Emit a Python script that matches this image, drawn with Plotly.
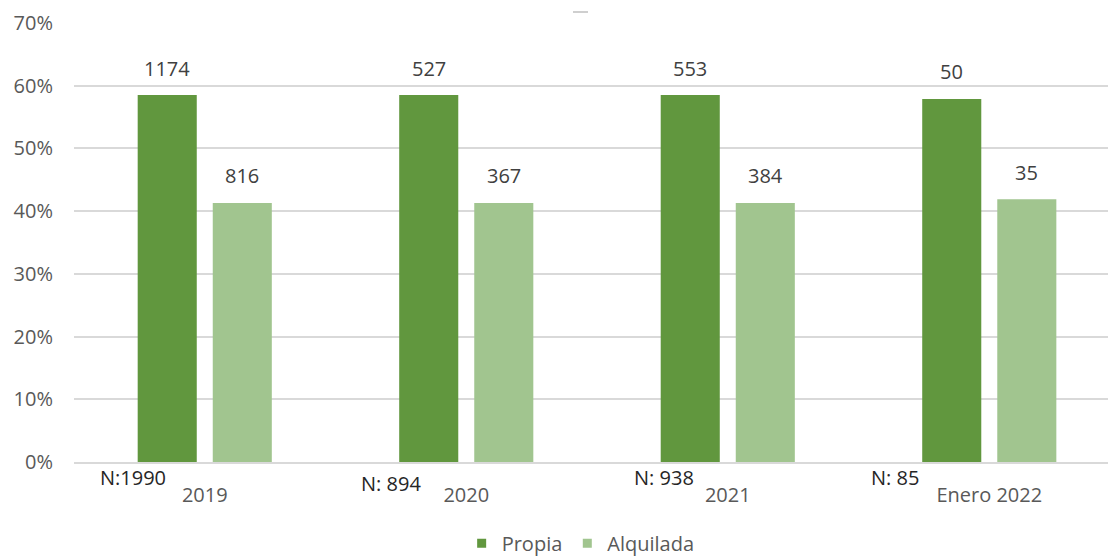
import plotly.graph_objects as go

# Survey data: share of households by tenure, with respondent counts
years = ["2019", "2020", "2021", "Enero 2022"]
propia_pct = [0.585, 0.585, 0.585, 0.579]
alquilada_pct = [0.413, 0.413, 0.413, 0.419]
propia_n = [1174, 527, 553, 50]
alquilada_n = [816, 367, 384, 35]
sample_labels = ["N:1990", "N: 894", "N: 938", "N: 85"]

DARK = "#61973E"
LIGHT = "#A1C58F"
FONT = "Open Sans"
GRAY = "#595959"

fig = go.Figure()
fig.add_bar(x=years, y=propia_pct, name="Propia", marker_color=DARK,
            marker_line_width=0, showlegend=False)
fig.add_bar(x=years, y=alquilada_pct, name="Alquilada", marker_color=LIGHT,
            marker_line_width=0, showlegend=False)

# small square legend swatches
for name, col in (("Propia", DARK), ("Alquilada", LIGHT)):
    fig.add_scatter(x=[None], y=[None], mode="markers", name=name,
                    marker=dict(symbol="square", size=9, color=col))

annotations = []
# count labels above each bar (x given as category index)
for i, (v, n) in enumerate(zip(propia_pct, propia_n)):
    annotations.append(dict(x=i, y=v, xref="x", yref="y", text=str(n),
                            showarrow=False, xshift=-37.5, yshift=27,
                            yanchor="middle",
                            font=dict(family=FONT, size=20, color="#404040")))
for i, (v, n) in enumerate(zip(alquilada_pct, alquilada_n)):
    annotations.append(dict(x=i, y=v, xref="x", yref="y", text=str(n),
                            showarrow=False, xshift=37.5, yshift=27,
                            yanchor="middle",
                            font=dict(family=FONT, size=20, color="#404040")))

# sample size notes below the axis
n_xshift = [-72, -75, -64, -94]
n_yshift = [-15, -21, -15, -15]
for i, (lab, dx, dy) in enumerate(zip(sample_labels, n_xshift, n_yshift)):
    annotations.append(dict(x=i, y=0, xref="x", yref="y", text=lab,
                            showarrow=False, xshift=dx, yshift=dy,
                            yanchor="middle",
                            font=dict(family=FONT, size=20, color="#262626")))

fig.update_layout(
    width=1108, height=556,
    margin=dict(l=74, r=0, t=23, b=94, autoexpand=False),
    paper_bgcolor="white", plot_bgcolor="white",
    barmode="group", bargap=0.426, bargroupgap=0.213,
    font=dict(family=FONT, size=20, color=GRAY),
    annotations=annotations,
    legend=dict(orientation="h", x=0.49, xanchor="center", y=-0.185,
                yanchor="middle", font=dict(family=FONT, size=20, color=GRAY),
                itemwidth=30, tracegroupgap=0),
    shapes=[dict(type="line", xref="paper", yref="paper",
                 x0=(573 - 74) / 1034, x1=(588 - 74) / 1034,
                 y0=1 + 11 / 439, y1=1 + 11 / 439,
                 line=dict(color="#cfcfcf", width=2))],
)
fig.update_xaxes(type="category", range=[-0.5, 3.454], showgrid=False,
                 showline=True, linecolor="#d9d9d9", linewidth=1.5,
                 ticks="", ticklabelstandoff=14,
                 tickfont=dict(family=FONT, size=20, color=GRAY))
fig.update_yaxes(range=[0, 0.7], dtick=0.1, tickformat=".0%",
                 showgrid=True, gridcolor="#d9d9d9", gridwidth=1.5,
                 zeroline=False, showline=False, ticks="",
                 ticklabelstandoff=20,
                 tickfont=dict(family=FONT, size=20, color=GRAY))

fig.write_html("out.html")
